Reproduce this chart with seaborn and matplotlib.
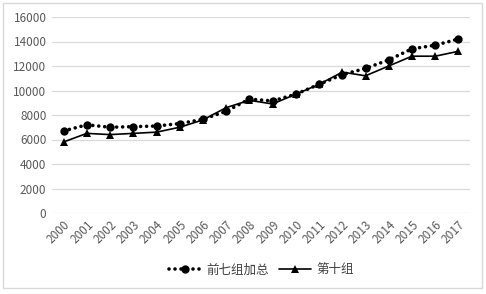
import pandas as pd
import matplotlib.pyplot as plt
import seaborn as sns
from matplotlib.patches import Rectangle

years = [str(y) for y in range(2000, 2018)]
top7_total = [6700, 7200, 7000, 7050, 7100, 7300, 7650, 8300, 9300, 9150,
              9700, 10500, 11300, 11800, 12500, 13400, 13700, 14200]
group10 = [5800, 6500, 6400, 6500, 6600, 7000, 7600, 8600, 9200, 8900,
           9700, 10500, 11500, 11200, 12000, 12800, 12800, 13200]
series_names = ['前七组加总', '第十组']
y_ticks = list(range(0, 16001, 2000))

df = pd.DataFrame({'year': years, 'top7': top7_total, 'g10': group10})
df['pos'] = range(len(df))

sns.set_theme(style='white')
plt.rcParams['font.family'] = ['Noto Sans CJK SC', 'DejaVu Sans']

fig = plt.figure(figsize=(4.86, 2.94), dpi=100)
ax = fig.add_axes([52 / 486, 1 - 213 / 294, 418 / 486, 196 / 294])

# dotted line with round dots, like the Excel "round dot" style
sns.lineplot(data=df, x='pos', y='top7', ax=ax, color='black',
             linestyle=(0, (0.01, 1.65)), dash_capstyle='round',
             linewidth=2.6, marker='o', markersize=6, markeredgewidth=0,
             label=series_names[0])
sns.lineplot(data=df, x='pos', y='g10', ax=ax, color='black', linestyle='-',
             linewidth=1.2, marker='^', markersize=6, markeredgewidth=0,
             label=series_names[1])

ax.set_xlim(-0.5, len(years) - 0.5)
ax.set_ylim(0, 16000)
ax.set_yticks(y_ticks)
ax.set_yticklabels([str(v) for v in y_ticks], fontsize=8.5, color='#595959')
ax.set_xticks(range(len(years)))
ax.set_xticklabels(years, rotation=45, ha='right', rotation_mode='anchor',
                   fontsize=8.5, color='#595959')
ax.tick_params(axis='both', length=0, pad=4)
ax.grid(axis='y', color='#d9d9d9', linewidth=0.9)
ax.set_axisbelow(True)
for s in ax.spines.values():
    s.set_visible(False)
ax.set_xlabel('')
ax.set_ylabel('')

ax.legend(loc='center', bbox_to_anchor=(0.5, -0.29), ncol=2,
          frameon=False, fontsize=9, handlelength=2.6, columnspacing=0.8,
          handletextpad=0.4, labelcolor='#404040')

fig.patches.append(Rectangle((3 / 486, 6 / 294), 479 / 486, 285 / 294,
                             transform=fig.transFigure, fill=False,
                             edgecolor='#d9d9d9', linewidth=1))

fig.savefig('out.png', dpi=100)
